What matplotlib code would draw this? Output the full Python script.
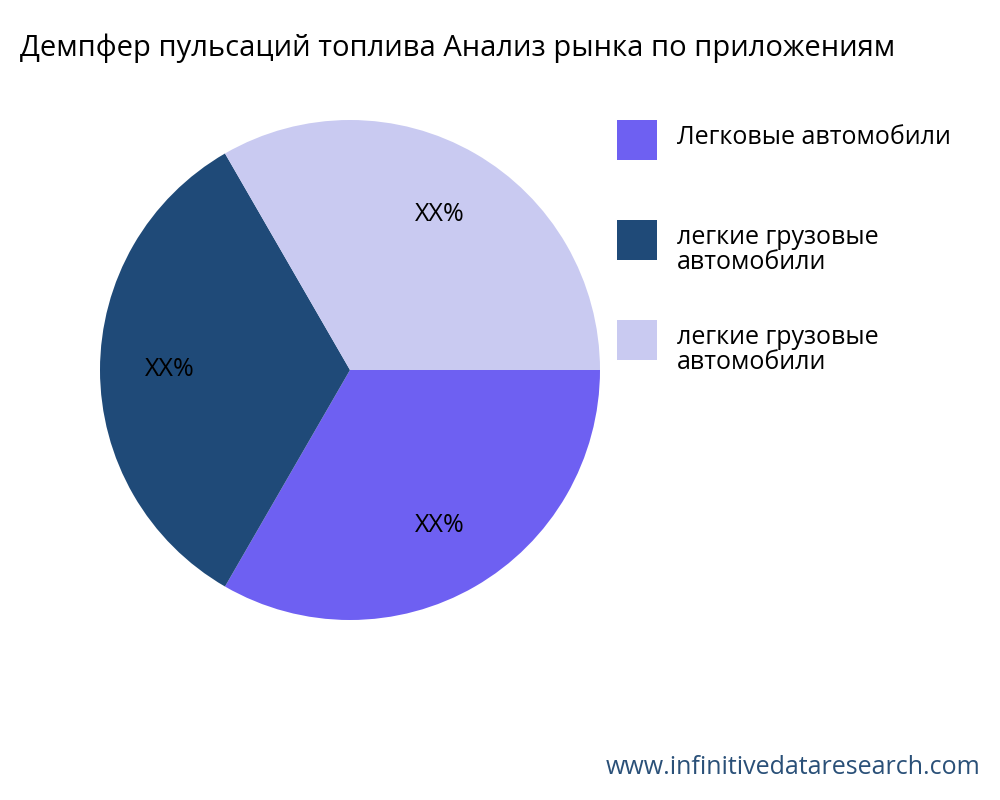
import matplotlib
matplotlib.use("Agg")
import matplotlib.pyplot as plt
from matplotlib.patches import Rectangle

plt.rcParams['font.family'] = ['Open Sans', 'DejaVu Sans']

categories = ["Легковые автомобили", "легкие грузовые\nавтомобили", "легкие грузовые\nавтомобили"]
values = [1, 1, 1]
colors = ["#6e60f2", "#1f4a78", "#c9caf1"]
title = "Демпфер пульсаций топлива Анализ рынка по приложениям"

fig = plt.figure(figsize=(10, 8), dpi=100)
ax = fig.add_axes([0.1, 0.225, 0.5, 0.625])
ax.pie(values, colors=colors, startangle=0, counterclock=False,
       autopct=lambda p: "XX%", pctdistance=0.72,
       textprops=dict(fontsize=18, color="black"))
ax.set_xlim(-1, 1)
ax.set_ylim(-1, 1)
ax.set_aspect('equal')

fig.text(0.02, 0.94, title, fontsize=21, ha='left', va='center')

# legend drawn in figure pixel coordinates (top-left origin converted)
for i, (lab, c) in enumerate(zip(categories, colors)):
    top = 120 + 100 * i
    fig.patches.append(Rectangle((617 / 1000, 1 - (top + 40) / 800), 40 / 1000, 40 / 800,
                                 facecolor=c, transform=fig.transFigure, figure=fig))
    fig.text(677 / 1000, 1 - (top + 5) / 800, lab, fontsize=18, ha='left', va='top',
             linespacing=1.0)

fig.text(0.98, 0.04, "www.infinitivedataresearch.com", fontsize=18,
         color="#2a5078", ha='right', va='center')
fig.savefig("out.png", dpi=100)
